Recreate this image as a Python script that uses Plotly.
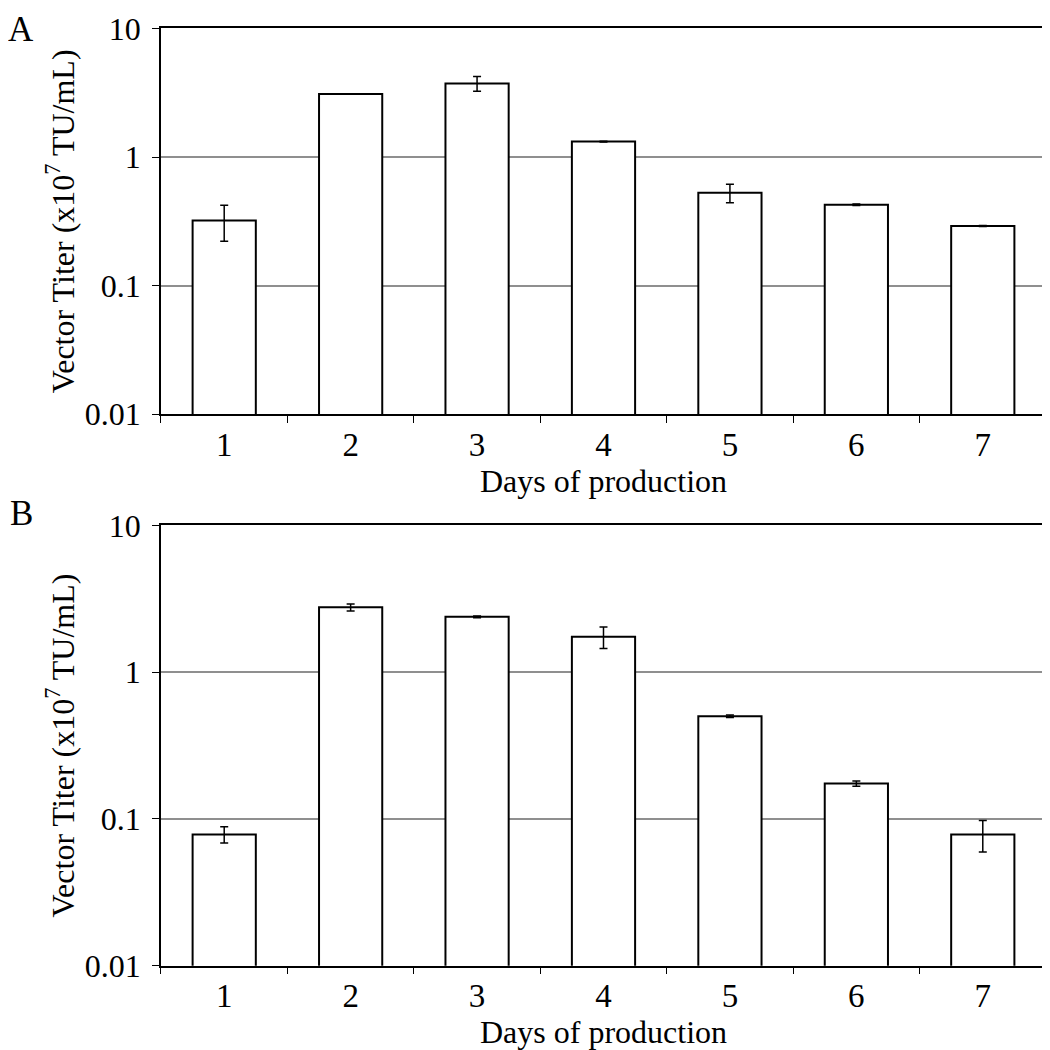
import plotly.graph_objects as go

days = ["1", "2", "3", "4", "5", "6", "7"]
titer_a = [0.322, 3.09, 3.74, 1.32, 0.528, 0.426, 0.291]
err_a = [0.10, 0.0, 0.49, 0.01, 0.087, 0.005, 0.003]
titer_b = [0.0784, 2.76, 2.38, 1.74, 0.501, 0.174, 0.0784]
err_b = [0.010, 0.15, 0.03, 0.29, 0.01, 0.007, 0.019]
ytick_vals = [0.01, 0.1, 1, 10]
ytick_text = ["0.01", "0.1", "1", "10"]

FONT = '"Liberation Serif", "Times New Roman", Times, "DejaVu Serif", serif'

fig = go.Figure()
for vals, errs, xa, ya in [(titer_a, err_a, "x", "y"), (titer_b, err_b, "x2", "y2")]:
    fig.add_trace(go.Bar(
        x=days, y=vals, xaxis=xa, yaxis=ya,
        marker=dict(color="white", line=dict(color="black", width=2)),
        error_y=dict(type="data", array=errs, visible=True, color="black",
                     thickness=1.5, width=4),
        showlegend=False,
    ))

xcommon = dict(type="category", showline=True, linecolor="black", linewidth=1.5,
               mirror=True, ticks="outside", tickson="boundaries", ticklen=7,
               tickwidth=1.2, tickcolor="black", showgrid=False,
               tickfont=dict(family=FONT, size=33, color="black"),
               ticklabelstandoff=0,
               domain=[0.14571, 0.98857], automargin=False)
ycommon = dict(type="log", range=[-2, 1], tickvals=ytick_vals, ticktext=ytick_text,
               showline=True, linecolor="black", linewidth=1.5, mirror=True,
               ticks="outside", ticklen=7, tickwidth=1.2, tickcolor="black",
               showgrid=True, gridcolor="#8f8f8f", gridwidth=1.5,
               tickfont=dict(family=FONT, size=32, color="black"),
               ticklabelstandoff=5,
               zeroline=False, automargin=False)

ytitle = "Vector Titer (x10<sup>7</sup> TU/mL)"
xt_font = dict(family=FONT, size=32, color="black")
yt_font = dict(family=FONT, size=32, color="black")
fig.update_layout(
    width=1050, height=1050,
    margin=dict(l=0, r=0, t=0, b=0),
    paper_bgcolor="white", plot_bgcolor="white",
    bargap=0.5,
    xaxis=dict(**xcommon, anchor="y",
               title=dict(text="Days of production", font=xt_font, standoff=0)),
    yaxis=dict(**ycommon, anchor="x", domain=[0.61305, 0.98048],
               title=dict(text=ytitle, font=yt_font, standoff=1)),
    xaxis2=dict(**xcommon, anchor="y2",
                title=dict(text="Days of production", font=xt_font, standoff=0)),
    yaxis2=dict(**ycommon, anchor="x2", domain=[0.08790, 0.50733],
                title=dict(text=ytitle, font=yt_font, standoff=1)),
    annotations=[
        dict(text="A", x=13 / 1050, y=1.0, xref="paper", yref="paper",
             xanchor="center", yanchor="top", showarrow=False,
             font=dict(family=FONT, size=35, color="black")),
        dict(text="B", x=13 / 1050, y=1 - 505 / 1050, xref="paper", yref="paper",
             xanchor="center", yanchor="middle", showarrow=False,
             font=dict(family=FONT, size=35, color="black")),
    ],
)

fig.write_html("out.html")
